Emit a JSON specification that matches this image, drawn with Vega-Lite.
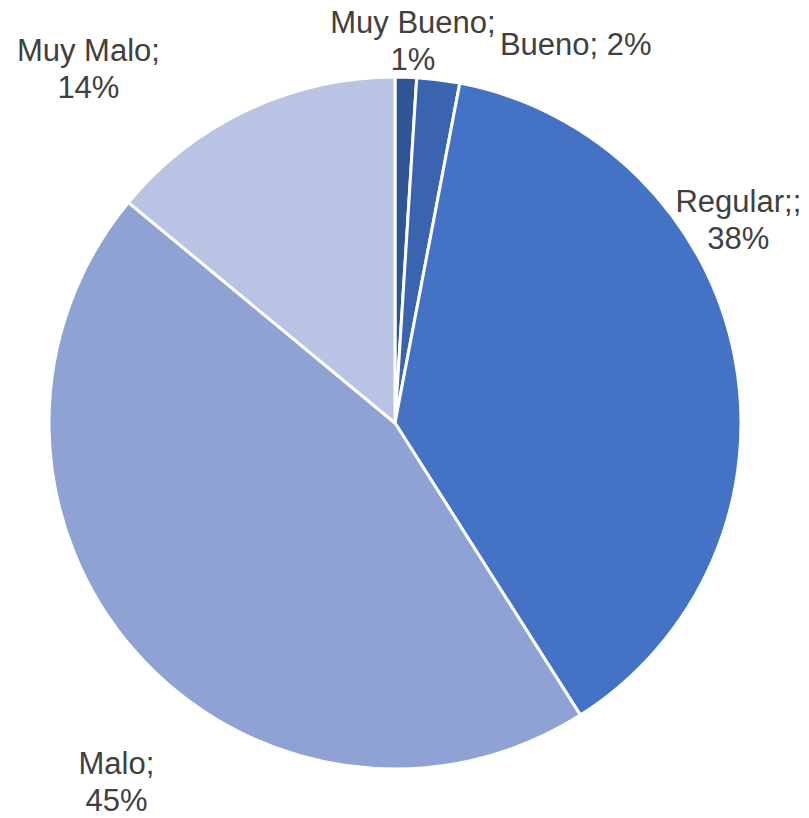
{
  "$schema": "https://vega.github.io/schema/vega-lite/v6.json",
  "width": 790,
  "height": 790,
  "autosize": {"type": "none"},
  "padding": {"left": 0, "top": 28, "right": 19, "bottom": 0},
  "background": "white",
  "config": {"view": {"stroke": null}},
  "data": {
    "values": [
      {"cat": "Muy Bueno", "orden": 1, "pct": 1, "label": "Muy Bueno;\n1%"},
      {"cat": "Bueno", "orden": 2, "pct": 2, "label": "Bueno; 2%"},
      {"cat": "Regular", "orden": 3, "pct": 38, "label": "Regular;;\n38%"},
      {"cat": "Malo", "orden": 4, "pct": 45, "label": "Malo;\n45%"},
      {"cat": "Muy Malo", "orden": 5, "pct": 14, "label": "Muy Malo;\n14%"}
    ]
  },
  "encoding": {
    "theta": {"field": "pct", "type": "quantitative", "stack": true},
    "order": {"field": "orden", "type": "quantitative"}
  },
  "layer": [
    {
      "mark": {"type": "arc", "radius": 346, "stroke": "white", "strokeWidth": 3},
      "encoding": {
        "color": {
          "field": "cat",
          "type": "nominal",
          "scale": {
            "domain": ["Muy Bueno", "Bueno", "Regular", "Malo", "Muy Malo"],
            "range": ["#2f5597", "#3a64b0", "#4472c4", "#8fa2d4", "#b9c3e3"]
          },
          "legend": null
        }
      }
    },
    {
      "mark": {"type": "text", "radius": 381, "dx": 6, "dy": -18, "font": "Liberation Sans", "fontSize": 31, "color": "#404040", "lineBreak": "\n", "lineHeight": 37, "baseline": "middle", "align": "center"},
      "encoding": {"text": {"condition": {"test": "datum.cat === 'Muy Bueno'", "field": "label"}, "value": ""}}
    },
    {
      "mark": {"type": "text", "radius": 397, "dx": 131, "dy": 17, "font": "Liberation Sans", "fontSize": 31, "color": "#404040", "lineBreak": "\n", "lineHeight": 37, "baseline": "middle", "align": "center"},
      "encoding": {"text": {"condition": {"test": "datum.cat === 'Bueno'", "field": "label"}, "value": ""}}
    },
    {
      "mark": {"type": "text", "radius": 375, "dx": -25, "dy": -150, "font": "Liberation Sans", "fontSize": 31, "color": "#404040", "lineBreak": "\n", "lineHeight": 37, "baseline": "middle", "align": "center"},
      "encoding": {"text": {"condition": {"test": "datum.cat === 'Regular'", "field": "label"}, "value": ""}}
    },
    {
      "mark": {"type": "text", "radius": 446, "dx": 56, "dy": 47, "font": "Liberation Sans", "fontSize": 31, "color": "#404040", "lineBreak": "\n", "lineHeight": 37, "baseline": "middle", "align": "center"},
      "encoding": {"text": {"condition": {"test": "datum.cat === 'Malo'", "field": "label"}, "value": ""}}
    },
    {
      "mark": {"type": "text", "radius": 450, "dx": -115, "dy": 36, "font": "Liberation Sans", "fontSize": 31, "color": "#404040", "lineBreak": "\n", "lineHeight": 37, "baseline": "middle", "align": "center"},
      "encoding": {"text": {"condition": {"test": "datum.cat === 'Muy Malo'", "field": "label"}, "value": ""}}
    }
  ]
}
